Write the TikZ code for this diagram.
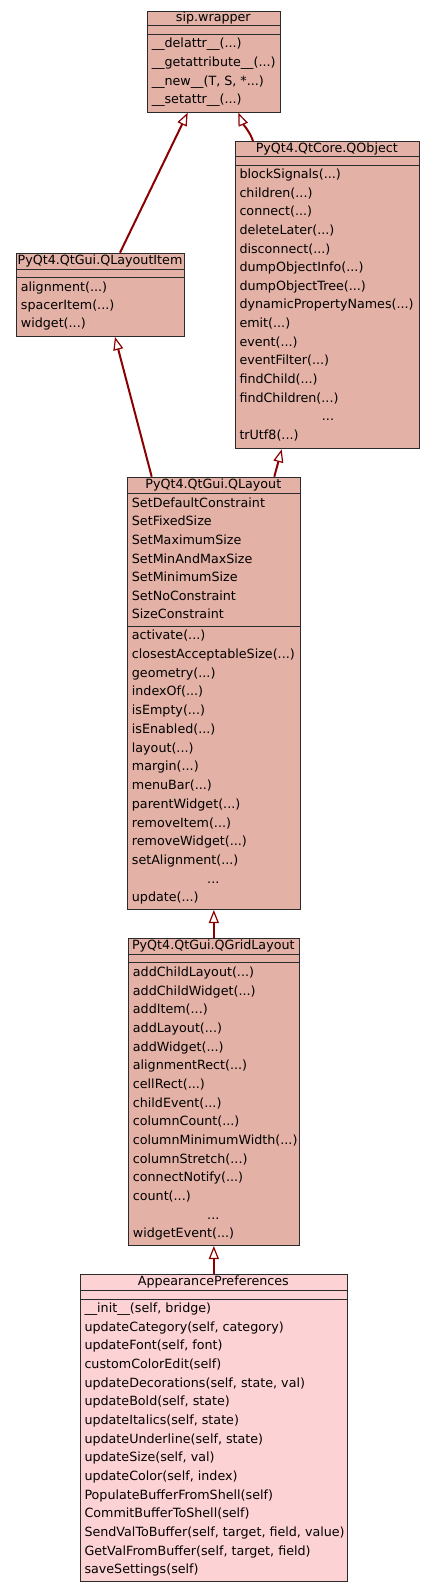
\documentclass[tikz,border=0pt]{standalone}
\usepackage{fontspec}
\setmainfont{DejaVu Sans}
\usetikzlibrary{arrows.meta}
\definecolor{qtfill}{HTML}{E3B1A5}
\definecolor{appfill}{HTML}{FDD2D5}
\definecolor{edgecol}{HTML}{8B0000}
\definecolor{boxline}{HTML}{2B2B2B}
\newcommand\myell{...}
\tikzset{
 classbox/.style={draw=boxline, line width=1pt, fill=qtfill, inner sep=0pt, anchor=north west},
 appbox/.style={classbox, fill=appfill},
 rowtext/.style={inner sep=0pt, anchor=base west, font=\fontsize{12.7}{15}\selectfont},
 titletext/.style={inner sep=0pt, anchor=base, font=\fontsize{12.7}{15}\selectfont},
 sepline/.style={draw=boxline, line width=1pt},
 inh/.style={draw=edgecol, line width=2pt, -{Triangle[fill=white, line width=1.2pt, length=13pt, width=10pt]}},
}
% #1 prefix, #2 x, #3 first baseline, #4 pitch, #5 list
\newcommand\memberrows[5]{%
  \foreach \t [count=\i from 0] in {#5} {
    \node[rowtext] (#1-\i) at (#2, #3 + \i*#4) {\t};
  }%
}
\begin{document}
\begin{tikzpicture}[x=1pt, y=-1pt]
\useasboundingbox (0,0) rectangle (435,1592);

% sip.wrapper
\node[classbox, minimum width=133.3pt, minimum height=101pt] (sip) at (146.7,10.7) {};
\node[titletext] (sip-t) at (213.3,22) {sip.wrapper};
\draw[sepline] (sip.west |- 0,26) -- (sip.east |- 0,26);
\draw[sepline] (sip.west |- 0,34.3) -- (sip.east |- 0,34.3);
\memberrows{sipm}{151.7}{47.9}{18.67}{{\_\_delattr\_\_(\myell)},{\_\_getattribute\_\_(\myell)},{\_\_new\_\_(T, S, *\myell)},{\_\_setattr\_\_(\myell)}}

% QObject
\node[classbox, minimum width=183.7pt, minimum height=307.3pt] (qo) at (235,141) {};
\node[titletext] (qo-t) at (326.8,152.3) {PyQt4.QtCore.QObject};
\draw[sepline] (qo.west |- 0,156.7) -- (qo.east |- 0,156.7);
\draw[sepline] (qo.west |- 0,165) -- (qo.east |- 0,165);
\memberrows{qom}{239.3}{178.6}{18.62}{{blockSignals(\myell)},{children(\myell)},{connect(\myell)},{deleteLater(\myell)},{disconnect(\myell)},{dumpObjectInfo(\myell)},{dumpObjectTree(\myell)},{dynamicPropertyNames(\myell)},{emit(\myell)},{event(\myell)},{eventFilter(\myell)},{findChild(\myell)},{findChildren(\myell)},{},{trUtf8(\myell)}}
\node[titletext] (qo-ell) at (328,420.7) {\myell};

% QLayoutItem
\node[classbox, minimum width=168.6pt, minimum height=83.3pt] (qli) at (15.7,252.7) {};
\node[titletext] (qli-t) at (100,264) {PyQt4.QtGui.QLayoutItem};
\draw[sepline] (qli.west |- 0,269) -- (qli.east |- 0,269);
\draw[sepline] (qli.west |- 0,277.3) -- (qli.east |- 0,277.3);
\memberrows{qlim}{20.7}{291.3}{18.3}{{alignment(\myell)},{spacerItem(\myell)},{widget(\myell)}}

% QLayout
\node[classbox, minimum width=173.3pt, minimum height=432.3pt] (ql) at (126.7,476.7) {};
\node[titletext] (ql-t) at (213.3,488) {PyQt4.QtGui.QLayout};
\draw[sepline] (ql.west |- 0,493.3) -- (ql.east |- 0,493.3);
\draw[sepline] (ql.west |- 0,626.7) -- (ql.east |- 0,626.7);
\memberrows{qla}{131.7}{507.3}{18.6}{SetDefaultConstraint,SetFixedSize,SetMaximumSize,SetMinAndMaxSize,SetMinimumSize,SetNoConstraint,SizeConstraint}
\memberrows{qlm}{131.7}{639.6}{18.74}{{activate(\myell)},{closestAcceptableSize(\myell)},{geometry(\myell)},{indexOf(\myell)},{isEmpty(\myell)},{isEnabled(\myell)},{layout(\myell)},{margin(\myell)},{menuBar(\myell)},{parentWidget(\myell)},{removeItem(\myell)},{removeWidget(\myell)},{setAlignment(\myell)},{},{update(\myell)}}
\node[titletext] (ql-ell) at (213.3,883.2) {\myell};

% QGridLayout
\node[classbox, minimum width=171.3pt, minimum height=306.7pt] (qg) at (127.7,938.3) {};
\node[titletext] (qg-t) at (213.3,949.6) {PyQt4.QtGui.QGridLayout};
\draw[sepline] (qg.west |- 0,954.3) -- (qg.east |- 0,954.3);
\draw[sepline] (qg.west |- 0,962.7) -- (qg.east |- 0,962.7);
\memberrows{qgm}{132.7}{976.3}{18.69}{{addChildLayout(\myell)},{addChildWidget(\myell)},{addItem(\myell)},{addLayout(\myell)},{addWidget(\myell)},{alignmentRect(\myell)},{cellRect(\myell)},{childEvent(\myell)},{columnCount(\myell)},{columnMinimumWidth(\myell)},{columnStretch(\myell)},{connectNotify(\myell)},{count(\myell)},{},{widgetEvent(\myell)}}
\node[titletext] (qg-ell) at (213.3,1219.3) {\myell};

% AppearancePreferences
\node[appbox, minimum width=266.7pt, minimum height=306.7pt] (app) at (80,1274.3) {};
\node[titletext] (app-t) at (213.3,1285.6) {AppearancePreferences};
\draw[sepline] (app.west |- 0,1290.7) -- (app.east |- 0,1290.7);
\draw[sepline] (app.west |- 0,1299) -- (app.east |- 0,1299);
\memberrows{appm}{84.3}{1312.3}{18.69}{{\_\_init\_\_(self, bridge)},{updateCategory(self, category)},{updateFont(self, font)},{customColorEdit(self)},{updateDecorations(self, state, val)},{updateBold(self, state)},{updateItalics(self, state)},{updateUnderline(self, state)},{updateSize(self, val)},{updateColor(self, index)},{PopulateBufferFromShell(self)},{CommitBufferToShell(self)},{SendValToBuffer(self, target, field, value)},{GetValFromBuffer(self, target, field)},{saveSettings(self)}}

% inheritance connectors
\draw[inh] (qli.north -| 120,0) -- (sip.south -| 187.7,0);
\draw[inh] (qo.north -| 253,0) .. controls (250,132) and (243,124) .. (sip.south -| 238.3,0);
\draw[inh] (ql.north -| 151.7,0) -- (qli.south -| 115,0);
\draw[inh] (ql.north -| 274.3,0) -- (qo.south -| 281.7,0);
\draw[inh] (qg.north) -- (ql.south);
\draw[inh] (app.north) -- (qg.south);
\end{tikzpicture}
\end{document}
